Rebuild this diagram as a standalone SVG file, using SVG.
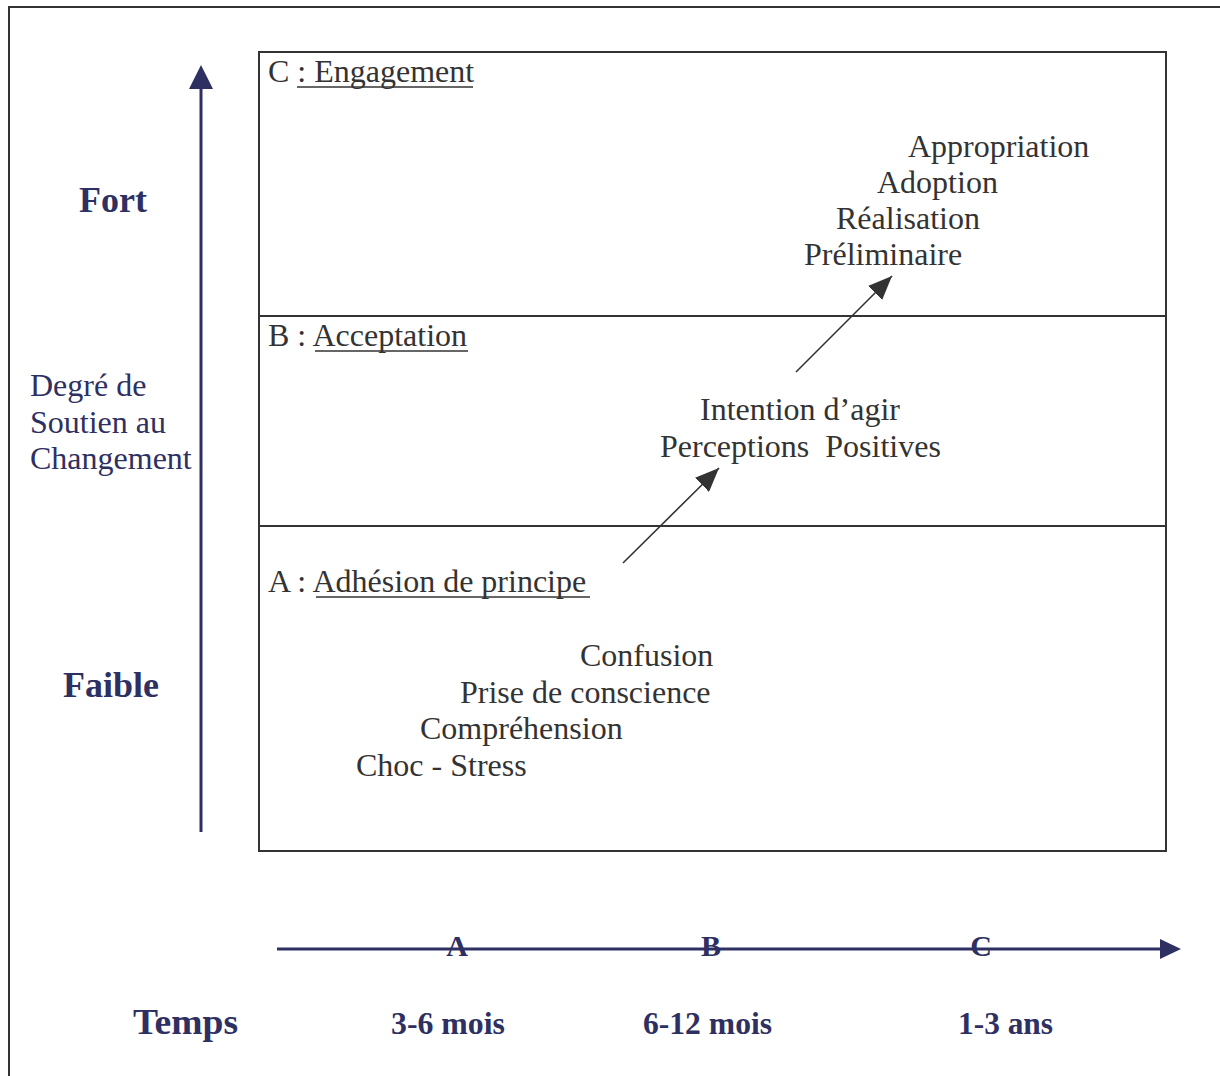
<svg xmlns="http://www.w3.org/2000/svg" width="1220" height="1076" viewBox="0 0 1220 1076">
<defs>
<style>
.g{font-family:"Liberation Serif","Times New Roman",serif;font-size:32px;fill:#333333}
.n{font-family:"Liberation Serif","Times New Roman",serif;fill:#2e3062}
.b{font-weight:bold}
.frame{fill:none;stroke:#333333;stroke-width:2}
.ul{stroke:#333333;stroke-width:1.5}
.nav{stroke:#2e3062;stroke-width:3;fill:none}
.gl{stroke:#333333;stroke-width:1.6;fill:none}
</style>
<marker id="ah" viewBox="0 0 10 10" refX="10" refY="5" markerWidth="24" markerHeight="20" markerUnits="userSpaceOnUse" orient="auto" preserveAspectRatio="none">
<path d="M0,0 L10,5 L0,10 z" fill="#333333"/>
</marker>
</defs>
<rect width="1220" height="1076" fill="#ffffff"/>
<path class="frame" d="M9,1076 V7 H1220"/>
<g id="chart">
<rect class="frame" x="259" y="52" width="907" height="799"/>
<line class="frame" x1="259" y1="316" x2="1166" y2="316"/>
<line class="frame" x1="259" y1="526" x2="1166" y2="526"/>
</g>
<g id="zoneC">
<text class="g" x="268" y="82">C : Engagement</text>
<line class="ul" x1="297" y1="87" x2="473" y2="87"/>
<text class="g" x="908" y="157">Appropriation</text>
<text class="g" x="877" y="193">Adoption</text>
<text class="g" x="836" y="229">Réalisation</text>
<text class="g" x="804" y="265">Préliminaire</text>
</g>
<g id="zoneB">
<text class="g" x="268" y="346">B : Acceptation</text>
<line class="ul" x1="315" y1="351" x2="468" y2="351"/>
<text class="g" x="700" y="420">Intention d’agir</text>
<text class="g" x="660" y="457" xml:space="preserve">Perceptions  Positives</text>
</g>
<g id="zoneA">
<text class="g" x="268" y="592">A : Adhésion de principe</text>
<line class="ul" x1="316" y1="597" x2="590" y2="597"/>
<text class="g" x="580" y="666">Confusion</text>
<text class="g" x="460" y="703">Prise de conscience</text>
<text class="g" x="420" y="739">Compréhension</text>
<text class="g" x="356" y="776">Choc - Stress</text>
</g>
<g id="yaxis">
<line class="nav" x1="201" y1="832" x2="201" y2="86"/>
<path d="M189,89 L201,65 L213,89 z" fill="#2e3062"/>
<text class="n b" x="79" y="212" font-size="36">Fort</text>
<text class="n b" x="63" y="697" font-size="36">Faible</text>
<text class="n" x="30" y="396" font-size="32">Degré de</text>
<text class="n" x="30" y="433" font-size="32">Soutien au</text>
<text class="n" x="30" y="469" font-size="32">Changement</text>
</g>
<g id="xaxis">
<line class="nav" x1="277" y1="949" x2="1165" y2="949" stroke-width="2.5"/>
<path d="M1160,939 L1181,949 L1160,959 z" fill="#2e3062"/>
<text class="n b" x="457" y="956" font-size="30" text-anchor="middle">A</text>
<text class="n b" x="711" y="956" font-size="30" text-anchor="middle">B</text>
<text class="n b" x="981" y="956" font-size="30" text-anchor="middle">C</text>
<text class="n b" x="133" y="1034" font-size="36" textLength="105" lengthAdjust="spacingAndGlyphs">Temps</text>
<text class="n b" x="391" y="1034" font-size="32" textLength="114" lengthAdjust="spacingAndGlyphs">3-6 mois</text>
<text class="n b" x="643" y="1034" font-size="32" textLength="129" lengthAdjust="spacingAndGlyphs">6-12 mois</text>
<text class="n b" x="958" y="1034" font-size="32" textLength="95" lengthAdjust="spacingAndGlyphs">1-3 ans</text>
</g>
<g id="connectors">
<line class="gl" x1="623" y1="563" x2="719" y2="468" marker-end="url(#ah)"/>
<line class="gl" x1="796" y1="372" x2="892" y2="276" marker-end="url(#ah)"/>
</g>
</svg>
